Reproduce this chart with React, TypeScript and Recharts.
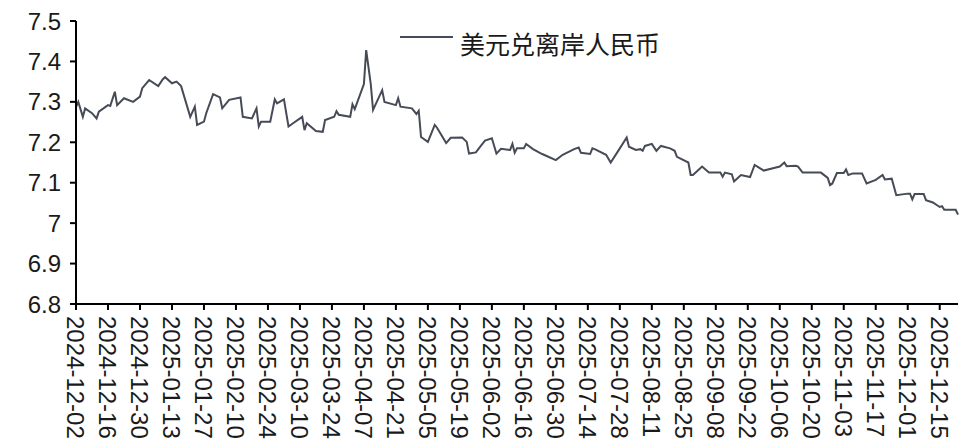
import React from 'react';
import { LineChart, Line, XAxis, YAxis } from 'recharts';

// 美元兑离岸人民币
const dates = [
  '2024-12-02', '2024-12-03', '2024-12-05', '2024-12-06', '2024-12-09', '2024-12-11', '2024-12-12',
  '2024-12-16', '2024-12-17', '2024-12-19', '2024-12-20', '2024-12-23', '2024-12-27', '2024-12-30',
  '2024-12-31', '2025-01-03', '2025-01-07', '2025-01-09', '2025-01-10', '2025-01-13', '2025-01-15',
  '2025-01-17', '2025-01-21', '2025-01-23', '2025-01-24', '2025-01-27', '2025-01-28', '2025-01-31',
  '2025-02-03', '2025-02-04', '2025-02-07', '2025-02-12', '2025-02-13', '2025-02-17', '2025-02-19',
  '2025-02-20', '2025-02-21', '2025-02-25', '2025-02-27', '2025-02-28', '2025-03-03', '2025-03-05',
  '2025-03-07', '2025-03-11', '2025-03-12', '2025-03-13', '2025-03-17', '2025-03-20', '2025-03-21',
  '2025-03-25', '2025-03-26', '2025-03-27', '2025-04-01', '2025-04-02', '2025-04-03', '2025-04-07',
  '2025-04-08', '2025-04-10', '2025-04-11', '2025-04-15', '2025-04-16', '2025-04-21', '2025-04-22',
  '2025-04-23', '2025-04-28', '2025-04-30', '2025-05-01', '2025-05-02', '2025-05-05', '2025-05-08',
  '2025-05-09', '2025-05-13', '2025-05-15', '2025-05-20', '2025-05-22', '2025-05-23', '2025-05-26',
  '2025-05-28', '2025-05-30', '2025-06-02', '2025-06-04', '2025-06-06', '2025-06-10', '2025-06-11',
  '2025-06-12', '2025-06-13', '2025-06-16', '2025-06-17', '2025-06-20', '2025-06-24', '2025-06-26',
  '2025-06-30', '2025-07-03', '2025-07-08', '2025-07-10', '2025-07-11', '2025-07-15', '2025-07-16',
  '2025-07-17', '2025-07-22', '2025-07-24', '2025-07-28', '2025-07-31', '2025-08-01', '2025-08-04',
  '2025-08-06', '2025-08-07', '2025-08-08', '2025-08-11', '2025-08-13', '2025-08-15', '2025-08-19',
  '2025-08-21', '2025-08-22', '2025-08-27', '2025-08-28', '2025-08-29', '2025-09-02', '2025-09-05',
  '2025-09-10', '2025-09-11', '2025-09-12', '2025-09-15', '2025-09-16', '2025-09-19', '2025-09-23',
  '2025-09-25', '2025-09-29', '2025-10-03', '2025-10-06', '2025-10-08', '2025-10-09', '2025-10-13',
  '2025-10-14', '2025-10-16', '2025-10-24', '2025-10-27', '2025-10-28', '2025-10-29', '2025-10-31',
  '2025-11-03', '2025-11-04', '2025-11-05', '2025-11-07', '2025-11-11', '2025-11-13', '2025-11-17',
  '2025-11-20', '2025-11-21', '2025-11-24', '2025-11-26', '2025-12-01', '2025-12-02', '2025-12-03',
  '2025-12-04', '2025-12-08', '2025-12-09', '2025-12-12', '2025-12-15', '2025-12-16', '2025-12-17',
  '2025-12-22', '2025-12-23',
];

const usdCnh = [
  7.287, 7.3, 7.263, 7.284, 7.272, 7.259, 7.276,
  7.292, 7.29, 7.325, 7.292, 7.309, 7.3, 7.313,
  7.334, 7.354, 7.339, 7.356, 7.361, 7.346, 7.35,
  7.339, 7.263, 7.288, 7.243, 7.251, 7.272, 7.319,
  7.311, 7.284, 7.305, 7.311, 7.263, 7.259, 7.284,
  7.239, 7.251, 7.251, 7.306, 7.296, 7.306, 7.239,
  7.247, 7.263, 7.23, 7.247, 7.228, 7.226, 7.255,
  7.263, 7.277, 7.268, 7.263, 7.294, 7.282, 7.344,
  7.428, 7.344, 7.28, 7.329, 7.3, 7.292, 7.309,
  7.288, 7.284, 7.27, 7.278, 7.213, 7.201, 7.243,
  7.236, 7.198, 7.211, 7.212, 7.201, 7.172, 7.175,
  7.19, 7.204, 7.21, 7.172, 7.184, 7.181, 7.196,
  7.174, 7.185, 7.185, 7.196, 7.183, 7.171, 7.166,
  7.156, 7.169, 7.183, 7.187, 7.174, 7.171, 7.185,
  7.183, 7.169, 7.15, 7.185, 7.212, 7.189, 7.181,
  7.183, 7.179, 7.191, 7.196, 7.179, 7.191, 7.185,
  7.179, 7.164, 7.15, 7.119, 7.119, 7.14, 7.125,
  7.125, 7.115, 7.125, 7.121, 7.103, 7.119, 7.114,
  7.144, 7.13, 7.136, 7.14, 7.15, 7.141, 7.142,
  7.14, 7.125, 7.125, 7.112, 7.094, 7.098, 7.124,
  7.124, 7.133, 7.119, 7.123, 7.123, 7.098, 7.107,
  7.119, 7.108, 7.11, 7.069, 7.073, 7.073, 7.059,
  7.072, 7.072, 7.057, 7.051, 7.04, 7.042, 7.033,
  7.033, 7.021,
];

const xTickDates = [
  '2024-12-02', '2024-12-16', '2024-12-30', '2025-01-13', '2025-01-27', '2025-02-10', '2025-02-24',
  '2025-03-10', '2025-03-24', '2025-04-07', '2025-04-21', '2025-05-05', '2025-05-19', '2025-06-02',
  '2025-06-16', '2025-06-30', '2025-07-14', '2025-07-28', '2025-08-11', '2025-08-25', '2025-09-08',
  '2025-09-22', '2025-10-06', '2025-10-20', '2025-11-03', '2025-11-17', '2025-12-01', '2025-12-15',
];

const yTicks = [6.8, 6.9, 7, 7.1, 7.2, 7.3, 7.4, 7.5];

const SERIES_NAME = '美元兑离岸人民币';
const START = '2024-12-02';
const END = '2025-12-23';

const dayOf = (d: string) => Math.round((Date.parse(d) - Date.parse(START)) / 86400000);

const chartData = dates.map((d, i) => ({ day: dayOf(d), date: d, value: usdCnh[i] }));
const xTicks = xTickDates.map(dayOf);

const FONT = '"Liberation Sans", Arial, Helvetica, sans-serif';
const LINE_COLOR = '#474b57';

const XTick = (props: any) => {
  const { x, y, payload } = props;
  const idx = xTicks.indexOf(payload.value);
  return (
    <text
      x={x}
      y={y}
      transform={`rotate(90 ${x} ${y})`}
      dy="0.36em"
      textAnchor="start"
      fontSize={24}
      fontFamily={FONT}
      fill="#1a1a1a"
    >
      {xTickDates[idx]}
    </text>
  );
};

const App: React.FC = () => {
  return (
    <div style={{ position: 'absolute', left: 0, top: 0, width: 975, height: 448, background: '#fff' }}>
      <LineChart
        width={975}
        height={448}
        data={chartData}
        margin={{ top: 21, right: 17, left: 0, bottom: 0 }}
      >
        <XAxis
          dataKey="day"
          type="number"
          domain={[0, dayOf(END)]}
          ticks={xTicks}
          interval={0}
          height={144}
          stroke="#000"
          strokeWidth={2}
          tickSize={6}
          tickMargin={6}
          tick={<XTick />}
        />
        <YAxis
          type="number"
          domain={[6.8, 7.5]}
          ticks={yTicks}
          interval={0}
          width={76}
          stroke="#000"
          strokeWidth={2}
          tickSize={6}
          tickMargin={9}
          tick={{ fontSize: 24, fontFamily: FONT, fill: '#1a1a1a' }}
          tickFormatter={(v: number) => String(Math.round(v * 10) / 10)}
        />
        <Line
          type="linear"
          dataKey="value"
          name={SERIES_NAME}
          stroke={LINE_COLOR}
          strokeWidth={2}
          dot={false}
          isAnimationActive={false}
        />
      </LineChart>
      {/* legend, placed over the plot like the original */}
      <div style={{ position: 'absolute', left: 400, top: 31, display: 'flex', alignItems: 'flex-start' }}>
        <svg width={53} height={4} style={{ marginTop: 4 }}>
          <line x1={0} y1={2} x2={53} y2={2} stroke={LINE_COLOR} strokeWidth={2} />
        </svg>
        <span
          style={{
            marginLeft: 7,
            fontSize: 25,
            lineHeight: '25px',
            color: '#1a1a1a',
            fontFamily: '"Noto Sans CJK SC", sans-serif',
            whiteSpace: 'nowrap',
          }}
        >
          {SERIES_NAME}
        </span>
      </div>
    </div>
  );
};

export default App;
